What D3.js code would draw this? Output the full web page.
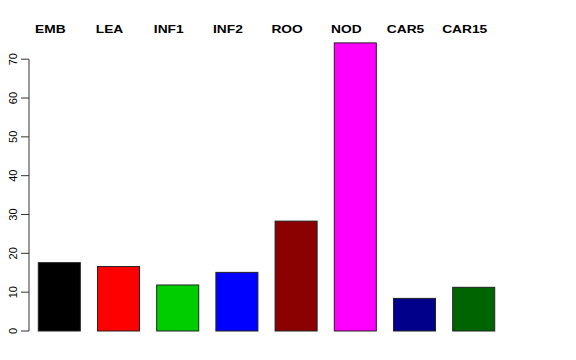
<!DOCTYPE html>
<html>
<head>
<meta charset="utf-8">
<script src="https://cdn.jsdelivr.net/npm/d3@7"></script>
<style>
  html, body { margin: 0; padding: 0; background: #fff; }
  svg { display: block; font-family: "Liberation Sans", Arial, Helvetica, sans-serif; }
</style>
</head>
<body>
<svg id="chart" width="576" height="360"></svg>
<script>
const categories = ["EMB", "LEA", "INF1", "INF2", "ROO", "NOD", "CAR5", "CAR15"];
const values = [17.6, 16.6, 11.85, 15.1, 28.3, 74.2, 8.4, 11.25];
const barColors = ["#000000", "#FF0000", "#00CD00", "#0000FF", "#8B0000", "#FF00FF", "#00008B", "#006400"];
const yTicks = [0, 10, 20, 30, 40, 50, 60, 70];

const svg = d3.select("#chart");

const x = d3.scaleBand()
  .domain(categories)
  .range([29.7, 503.3])
  .paddingInner(0.29)
  .paddingOuter(0.145);

const y = d3.scaleLinear().domain([0, 70]).range([331, 59.2]);

// bars
svg.append("g")
  .selectAll("rect")
  .data(categories)
  .join("rect")
  .attr("x", d => x(d))
  .attr("y", (d, i) => y(values[i]))
  .attr("width", x.bandwidth())
  .attr("height", (d, i) => y(0) - y(values[i]))
  .attr("fill", (d, i) => barColors[i])
  .attr("stroke", "#222")
  .attr("stroke-width", 1);

// y axis
const axisX = 29;
const ax = svg.append("g");
ax.append("line")
  .attr("x1", axisX).attr("x2", axisX)
  .attr("y1", y(70)).attr("y2", y(0))
  .attr("stroke", "#333").attr("stroke-width", 1);
ax.selectAll("line.tick")
  .data(yTicks)
  .join("line")
  .attr("class", "tick")
  .attr("x1", axisX - 8).attr("x2", axisX)
  .attr("y1", d => y(d)).attr("y2", d => y(d))
  .attr("stroke", "#333").attr("stroke-width", 1);
ax.selectAll("text")
  .data(yTicks)
  .join("text")
  .attr("transform", d => `translate(16.7,${y(d)}) rotate(-90)`)
  .attr("text-anchor", "middle")
  .attr("font-size", 11)
  .attr("fill", "#000")
  .text(d => d);

// category labels on top
svg.append("g")
  .selectAll("text")
  .data(categories)
  .join("text")
  .attr("transform", d => `translate(${x(d) + x.bandwidth() / 2 - 9},33) scale(1,0.8)`)
  .attr("text-anchor", "middle")
  .attr("font-size", 13.75)
  .attr("font-weight", "bold")
  .attr("fill", "#000")
  .text(d => d);
</script>
</body>
</html>
